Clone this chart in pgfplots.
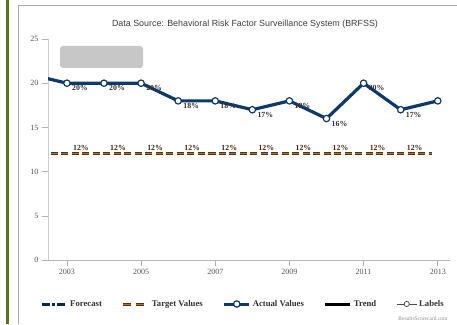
\documentclass[border=0pt]{standalone}
\usepackage{fontspec}
\setmainfont{Liberation Serif}
\newfontfamily\titlefont{Liberation Sans}
\usepackage{pgfplots}
\pgfplotsset{compat=1.18}

\definecolor{navy}{RGB}{14,58,106}
\definecolor{tgtdark}{RGB}{84,52,20}
\definecolor{tgtlight}{RGB}{180,112,48}
\definecolor{framegreen}{RGB}{92,110,40}
\definecolor{framegray}{RGB}{170,170,170}
\definecolor{ticktext}{RGB}{85,85,85}
\definecolor{legtext}{RGB}{51,51,51}

\begin{document}
\begin{tikzpicture}
\fill[white] (0pt,0pt) rectangle (457pt,324pt);
\useasboundingbox (0pt,0pt) rectangle (457pt,324pt);
% page frame
\fill[framegreen] (5.5pt,0pt) rectangle (8.5pt,324pt);
\draw[framegray, line width=1.5pt] (18.5pt,0pt) -- (18.5pt,318.5pt) -- (457pt,318.5pt);
% title
\node[font=\titlefont\fontsize{8.9}{10}\selectfont, text=black!75] at (245pt,300pt)
  {Data Source: Behavioral Risk Factor Surveillance System (BRFSS)};
% empty tooltip box
\fill[black!22, rounded corners=3pt] (60pt,256pt) rectangle (143pt,278pt);

\begin{axis}[
  scale only axis, width=402pt, height=221pt,
  at={(48pt,64pt)}, anchor=south west,
  xmin=2002.49, xmax=2013.33, ymin=0, ymax=25,
  axis x line*=bottom, axis y line*=left,
  axis line style={-},
  x axis line style={black!28, line width=0.8pt},
  y axis line style={black!20, line width=0.8pt},
  xtick={2003,2005,2007,2009,2011,2013},
  ytick={0,5,10,15,20,25},
  tick align=outside, major tick length=6pt,
  tick style={black!30, line width=0.6pt},
  /pgf/number format/assume math mode=true,
  x tick label style={/pgf/number format/1000 sep={}},
  tick label style={font=\fontsize{8}{9}\selectfont, text=ticktext},
  legend columns=5,
  legend style={draw=none, fill=none, inner sep=0pt,
    at={(axis description cs:0,0)}, anchor=west, xshift=-8pt, yshift=-44pt,
    font=\fontsize{8.7}{10}\selectfont\bfseries, text=legtext,
    nodes={inner xsep=2pt, inner ysep=1pt},
    /tikz/every odd column/.append style={column sep=0pt},
    /tikz/every even column/.append style={column sep=18pt}},
]
% legend entries
\addlegendimage{legend image code/.code={
  \draw[navy!70!black, line width=3pt, dash pattern=on 8pt off 2.5pt on 2.5pt off 2.5pt] (0pt,0pt) -- (25pt,0pt);}}
\addlegendentry{Forecast}
\addlegendimage{legend image code/.code={
  \draw[tgtdark, line width=3pt, dash pattern=on 8pt off 5pt] (0pt,0pt) -- (25pt,0pt);
  \draw[tgtlight, line width=1pt, dash pattern=on 8pt off 5pt] (0pt,0pt) -- (25pt,0pt);}}
\addlegendentry{Target Values}
\addlegendimage{legend image code/.code={
  \draw[navy, line width=3pt] (0pt,0pt) -- (25pt,0pt);
  \draw[navy, fill=white, line width=1.2pt] (12.5pt,0pt) circle (3.2pt);}}
\addlegendentry{Actual Values}
\addlegendimage{legend image code/.code={
  \draw[black, line width=3pt] (0pt,0pt) -- (25pt,0pt);}}
\addlegendentry{Trend}
\addlegendimage{legend image code/.code={
  \draw[black!70, line width=0.8pt] (0pt,0pt) -- (20pt,0pt);
  \draw[black!70, fill=white, line width=0.8pt] (10pt,0pt) circle (2.6pt);}}
\addlegendentry{Labels}

% target values
\addplot[forget plot, tgtdark, line width=3pt, dash pattern=on 7pt off 3.5pt] coordinates {
  (2002,12) (2003,12) (2004,12) (2005,12) (2006,12) (2007,12) (2008,12)
  (2009,12) (2010,12) (2011,12) (2012,12) (2012.85,12)};
\addplot[forget plot, tgtlight, line width=1pt, dash pattern=on 7pt off 3.5pt] coordinates {
  (2002,12) (2003,12) (2004,12) (2005,12) (2006,12) (2007,12) (2008,12)
  (2009,12) (2010,12) (2011,12) (2012,12) (2012.85,12)};
\addplot[forget plot, draw=none, mark=none, point meta=y,
  nodes near coords={\pgfmathprintnumber{\pgfplotspointmeta}\%},
  every node near coord/.style={anchor=west, xshift=6pt, yshift=6pt, inner sep=0pt,
    font=\fontsize{7.8}{8}\selectfont\bfseries, text=tgtdark!80!black}]
  coordinates {(2003,12) (2004,12) (2005,12) (2006,12) (2007,12)
    (2008,12) (2009,12) (2010,12) (2011,12) (2012,12)};

% actual value labels
\addplot[forget plot, draw=none, mark=none, point meta=y,
  nodes near coords={\pgfmathprintnumber{\pgfplotspointmeta}\%},
  every node near coord/.style={anchor=west, xshift=5pt, yshift=-5pt, inner sep=0pt,
    font=\fontsize{7.8}{8}\selectfont\bfseries, text=legtext}]
  coordinates {(2003,20) (2004,20) (2005,20) (2006,18) (2007,18)
    (2008,17) (2009,18) (2010,16) (2011,20) (2012,17)};

% actual values
\addplot[forget plot, navy, line width=3.2pt, line join=round, mark=none] coordinates {
  (2002,21) (2003,20) (2004,20) (2005,20) (2006,18) (2007,18) (2008,17)
  (2009,18) (2010,16) (2011,20) (2012,17) (2013,18)};
\addplot[forget plot, only marks, mark=*, mark size=3.2pt,
  mark options={draw=navy, fill=white, line width=1.2pt}] coordinates {
  (2003,20) (2004,20) (2005,20) (2006,18) (2007,18) (2008,17)
  (2009,18) (2010,16) (2011,20) (2012,17) (2013,18)};
\end{axis}
\node[anchor=east, font=\fontsize{5.5}{6}\selectfont, text=black!45] at (451pt,5pt) {ResultsScorecard.com};
\end{tikzpicture}
\end{document}
